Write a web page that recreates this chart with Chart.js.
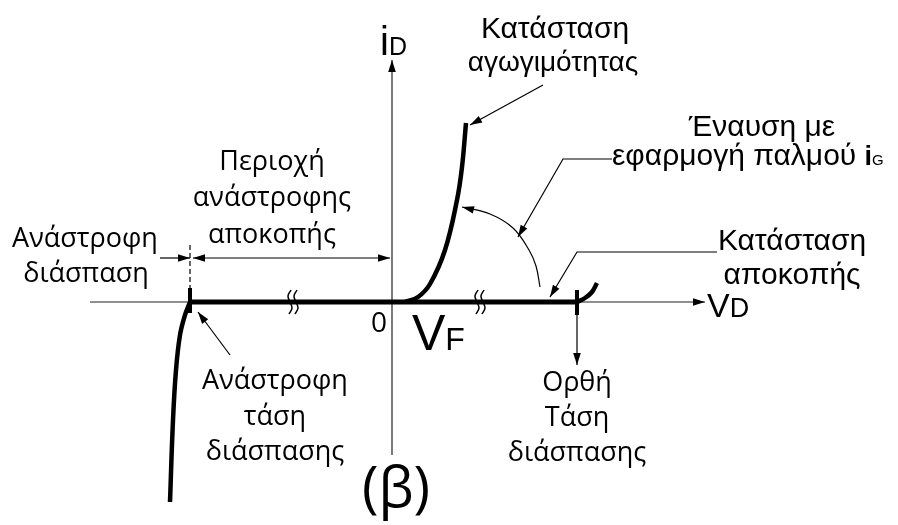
<!DOCTYPE html>
<html>
<head>
<meta charset="utf-8">
<script src="https://cdn.jsdelivr.net/npm/chart.js@4.4.1/dist/chart.umd.min.js"></script>
<style>
  html, body { margin: 0; padding: 0; background: #fff; }
  #wrap { width: 898px; height: 525px; position: relative; }
</style>
</head>
<body>
<div id="wrap"><canvas id="thyristorChart"></canvas></div>
<script>
// thyristor i-v characteristic, origin (0,0) where the axes cross
const offState = [[-202, 0], [185, 0]];
const onState = [[13, 0], [26, 5], [38, 18], [53, 52], [65, 102], [70, 135], [74, 179]];
const reverseBreakdown = [[-202, 0], [-207, -13], [-212, -33], [-216, -68], [-219, -118], [-222, -200]];
const forwardBreakover = [[185, 0], [193, 4], [200, 10], [205, 19]];
const reverseTick = [[-202, 14], [-202, -11]];
const forwardTick = [[185, 12], [185, -13]];
const reverseDashed = [[-202, 57], [-202, 14]];
const vAxis = [[-302, 0], [313, 0]];
const iAxis = [[0, -153], [0, 242]];
const breakMarks = [-99, 88];
const breakStroke = [[1, 12], [-2, 6], [0, 0], [2, -6], [-1, -12]];

// pointers
const revBreakArrow = [[-232, 44], [-202, 44]];
const revBlockArrow = [[-199, 44], [-2, 44]];
const revVoltArrow = [[-162, -53], [-194, -10]];
const onArrow = [[151, 217], [78, 177]];
const triggerArc = [[148, 15], [144, 36], [137, 52], [121, 74], [98, 88], [70, 95]];
const triggerArrow = [[220, 143], [171, 143], [126, 65]];
const offArrow = [[325, 50], [185, 50], [158, 5]];
const breakoverArrow = [[185, -13], [185, -63]];

const SANS = '"Liberation Sans", Arial, sans-serif';
const HUM = '"Open Sans", sans-serif';

const labels = [
  { x: 163, y: 264, parts: [["Κατάσταση", "30px " + SANS]] },
  { x: 161, y: 231, parts: [["αγωγιμότητας", "28px " + SANS]] },
  { x: 370, y: 166, parts: [["Έναυση με", "30px " + SANS]] },
  { x: 220, y: 137, align: "left", parts: [["εφαρμογή παλμού ", "30px " + SANS], ["i", "bold 27px " + SANS], ["G", "15px " + SANS]] },
  { x: -120, y: 132, parts: [["Περιοχή", "27px " + HUM]] },
  { x: -120, y: 96, parts: [["ανάστροφης", "27px " + HUM]] },
  { x: -120, y: 59, parts: [["αποκοπής", "27px " + HUM]] },
  { x: -307, y: 55, parts: [["Ανάστροφη", "27px " + HUM]] },
  { x: -306, y: 20, parts: [["διάσπαση", "27px " + HUM]] },
  { x: 400, y: 52, parts: [["Κατάσταση", "30px " + SANS]] },
  { x: 400, y: 18, parts: [["αποκοπής", "30px " + SANS]] },
  { x: -117, y: -87, parts: [["Ανάστροφη", "27px " + HUM]] },
  { x: -117, y: -123, parts: [["τάση", "27px " + HUM]] },
  { x: -117, y: -158, parts: [["διάσπασης", "27px " + HUM]] },
  { x: 185, y: -89, parts: [["Ορθή", "27px " + HUM]] },
  { x: 185, y: -124, parts: [["Τάση", "27px " + HUM]] },
  { x: 185, y: -159, parts: [["διάσπασης", "27px " + HUM]] },
  { x: -13, y: -30, parts: [["0", "28px " + HUM]] },
  { x: 20, y: -48, align: "left", parts: [["V", "50px " + SANS], ["F", "32px " + SANS]] },
  { x: 315, y: -15, align: "left", parts: [["V", "34px " + SANS], ["D", "27px " + SANS]] },
  { x: -12, y: 247, align: "left", parts: [["i", "40px " + SANS], ["D", "25px " + SANS]] },
  { x: 4, y: -205, parts: [["(β)", "56px " + HUM]] }
];

function pts(arr) {
  return arr.map(function (p) { return { x: p[0], y: p[1] }; });
}

function line(arr, width, extra) {
  return Object.assign({
    data: pts(arr),
    showLine: true,
    borderColor: "#000",
    backgroundColor: "#000",
    borderWidth: width,
    pointRadius: 0,
    tension: 0,
    fill: false,
    clip: false
  }, extra || {});
}

const datasets = [
  line(offState, 5),
  line(onState, 4.5, { tension: 0.4 }),
  line(reverseBreakdown, 4.5, { tension: 0.4 }),
  line(forwardBreakover, 4.5, { tension: 0.4 }),
  line(reverseTick, 4),
  line(forwardTick, 4)
];
breakMarks.forEach(function (cx) {
  [-3, 3].forEach(function (d) {
    datasets.push(line(breakStroke.map(function (p) { return [cx + d + p[0], p[1]]; }), 1.5, { tension: 0.4 }));
  });
});
datasets.push(
  line(reverseDashed, 1.2, { borderDash: [5, 3] }),
  line(revBreakArrow, 1.2, { arrowEnd: true }),
  line(revBlockArrow, 1.2, { arrowEnd: true, arrowStart: true }),
  line(revVoltArrow, 1.2, { arrowEnd: true }),
  line(onArrow, 1.2, { arrowEnd: true }),
  line(triggerArc, 1.2, { arrowEnd: true, tension: 0.4 }),
  line(triggerArrow, 1.2, { arrowEnd: true }),
  line(offArrow, 1.2, { arrowEnd: true }),
  line(breakoverArrow, 1.2, { arrowEnd: true }),
  line(vAxis, 1.2, { arrowEnd: true, borderColor: "#222" }),
  line(iAxis, 1.2, { arrowEnd: true, borderColor: "#222" })
);

function head(ctx, from, to) {
  const a = Math.atan2(to.y - from.y, to.x - from.x);
  const len = 12, half = 3.8;
  ctx.beginPath();
  ctx.moveTo(to.x, to.y);
  ctx.lineTo(to.x - len * Math.cos(a) + half * Math.sin(a), to.y - len * Math.sin(a) - half * Math.cos(a));
  ctx.lineTo(to.x - len * Math.cos(a) - half * Math.sin(a), to.y - len * Math.sin(a) + half * Math.cos(a));
  ctx.closePath();
  ctx.fill();
}

const arrowHeads = {
  id: "arrowHeads",
  afterDatasetsDraw: function (chart) {
    const ctx = chart.ctx;
    ctx.save();
    ctx.fillStyle = "#000";
    chart.data.datasets.forEach(function (ds, i) {
      const el = chart.getDatasetMeta(i).data;
      const n = el.length;
      if (ds.arrowEnd) head(ctx, el[n - 2], el[n - 1]);
      if (ds.arrowStart) head(ctx, el[1], el[0]);
    });
    ctx.restore();
  }
};

const textLabels = {
  id: "textLabels",
  afterDraw: function (chart) {
    const ctx = chart.ctx;
    const sx = chart.scales.x, sy = chart.scales.y;
    ctx.save();
    ctx.fillStyle = "#000";
    ctx.textBaseline = "alphabetic";
    ctx.textAlign = "left";
    labels.forEach(function (lb) {
      let total = 0;
      lb.parts.forEach(function (p) { ctx.font = p[1]; total += ctx.measureText(p[0]).width; });
      let x = sx.getPixelForValue(lb.x);
      const y = sy.getPixelForValue(lb.y);
      if (lb.align !== "left") x -= total / 2;
      lb.parts.forEach(function (p) {
        ctx.font = p[1];
        ctx.fillText(p[0], x, y);
        x += ctx.measureText(p[0]).width;
      });
    });
    ctx.restore();
  }
};

new Chart(document.getElementById("thyristorChart"), {
  type: "scatter",
  data: { datasets: datasets },
  options: {
    responsive: true,
    maintainAspectRatio: false,
    animation: false,
    layout: { padding: 0 },
    plugins: { legend: { display: false }, tooltip: { enabled: false } },
    scales: {
      x: { type: "linear", display: false, min: -392, max: 506 },
      y: { type: "linear", display: false, min: -223, max: 302 }
    }
  },
  plugins: [arrowHeads, textLabels]
});
</script>
</body>
</html>
